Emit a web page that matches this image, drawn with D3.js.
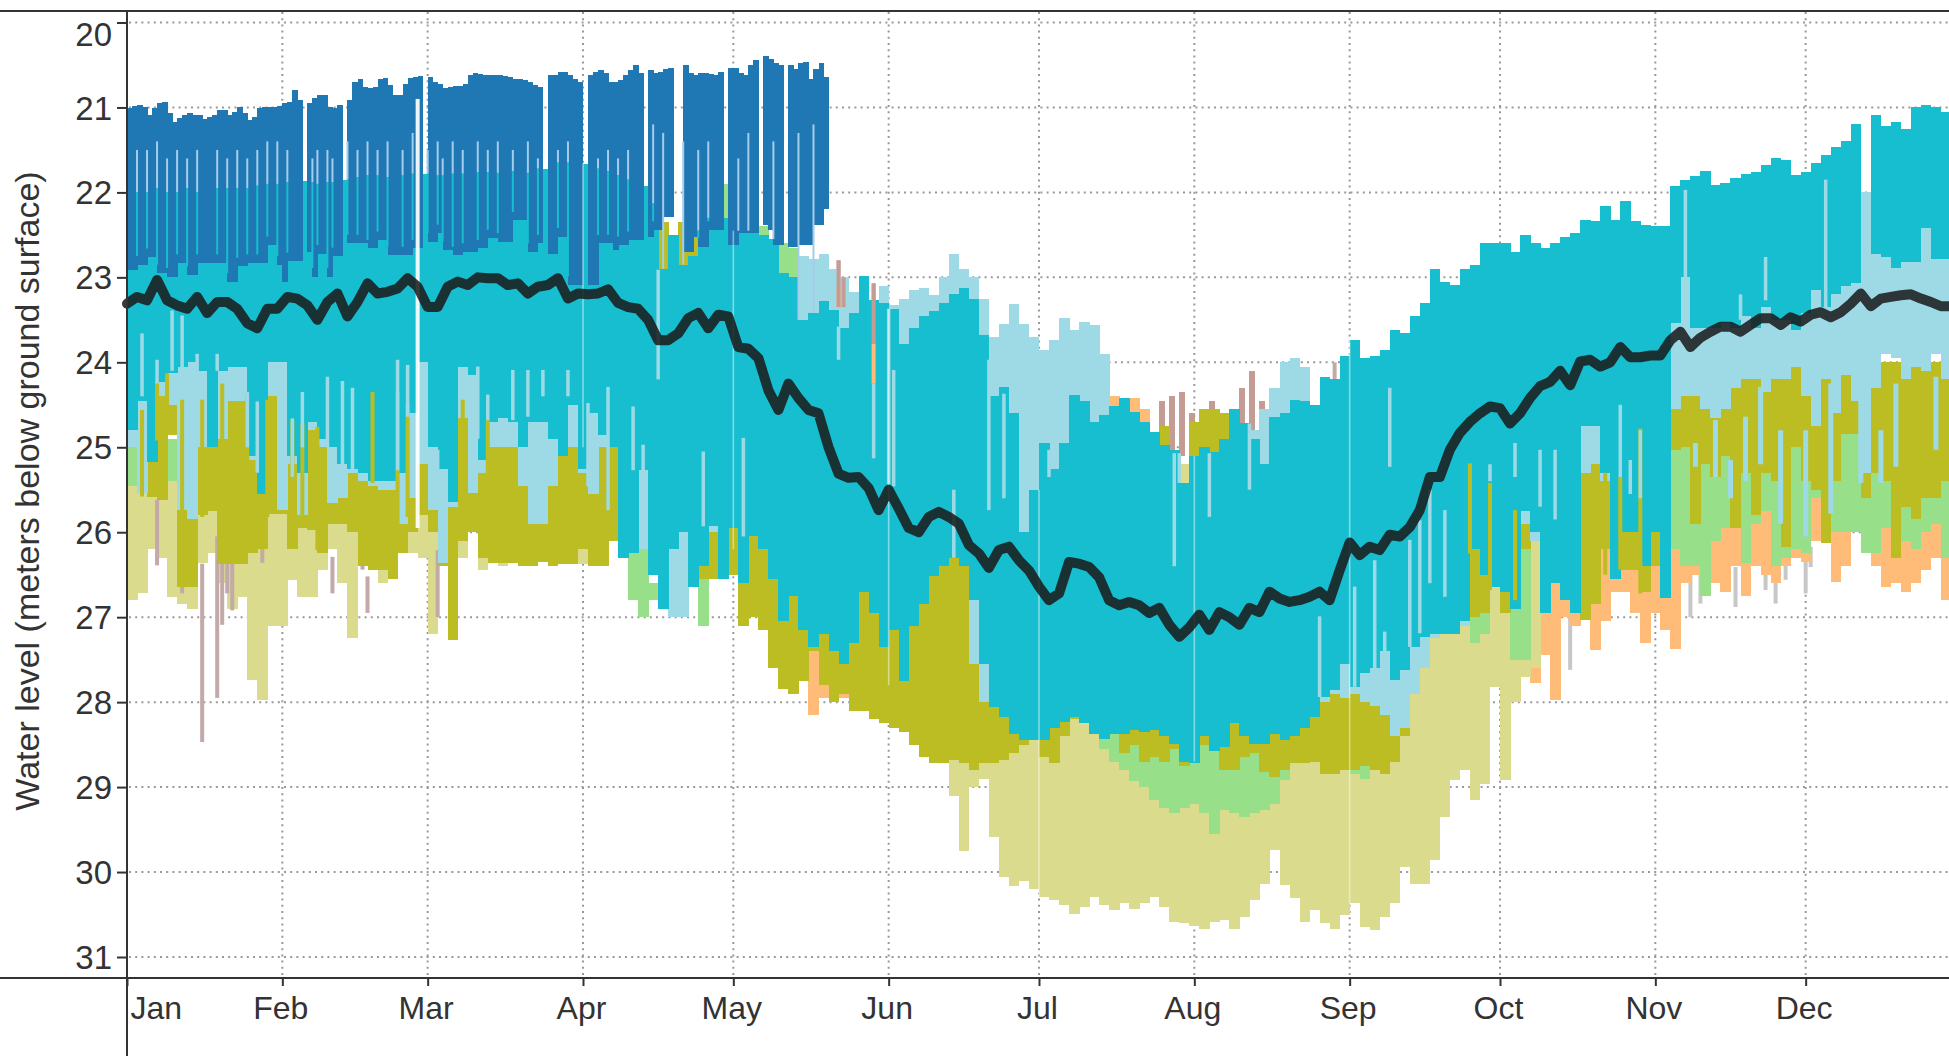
<!DOCTYPE html>
<html><head><meta charset="utf-8">
<script src="https://cdn.jsdelivr.net/npm/d3@7"></script>
<style>html,body{margin:0;padding:0;background:#fff;overflow:hidden}svg{display:block}text{font-family:"Liberation Sans",Arial,sans-serif;fill:#333}</style>
</head><body><svg id="c" width="1949" height="1056"></svg>
<script>
// Every band array below is sampled every 2 days, starting at day 0 (1 January). Levels in metres below ground.
const monthLabels=["Jan","Feb","Mar","Apr","May","Jun","Jul","Aug","Sep","Oct","Nov","Dec"];
const levelTicks=[20,21,22,23,24,25,26,27,28,29,30,31];
const meanLevel=[23.31,23.23,23.27,23.03,23.27,23.33,23.37,23.23,23.42,23.29,23.29,23.37,23.54,23.6,23.37,23.37,23.23,23.25,23.33,23.5,23.29,23.19,23.46,23.29,23.07,23.19,23.17,23.13,23.01,23.11,23.35,23.35,23.11,23.05,23.09,23.0,23.01,23.01,23.09,23.07,23.19,23.11,23.09,23.01,23.25,23.19,23.2,23.19,23.14,23.3,23.35,23.37,23.5,23.74,23.74,23.66,23.48,23.42,23.6,23.44,23.46,23.82,23.84,23.95,24.33,24.56,24.25,24.42,24.56,24.6,25.0,25.31,25.36,25.35,25.48,25.74,25.5,25.72,25.95,26.0,25.82,25.76,25.82,25.9,26.15,26.25,26.42,26.21,26.17,26.33,26.45,26.64,26.8,26.72,26.35,26.37,26.41,26.53,26.8,26.86,26.82,26.86,26.95,26.89,27.09,27.23,27.12,26.97,27.15,26.94,27.0,27.09,26.89,26.94,26.7,26.78,26.82,26.8,26.76,26.7,26.8,26.45,26.12,26.27,26.17,26.21,26.03,26.05,25.94,25.74,25.35,25.35,25.03,24.83,24.7,24.6,24.52,24.54,24.72,24.6,24.42,24.28,24.23,24.1,24.27,23.99,23.97,24.05,24.0,23.82,23.94,23.94,23.92,23.92,23.74,23.64,23.82,23.71,23.64,23.58,23.58,23.64,23.56,23.48,23.48,23.56,23.47,23.52,23.44,23.41,23.47,23.41,23.31,23.19,23.34,23.25,23.23,23.21,23.2,23.25,23.29,23.34,23.34];
// Blue series: daily, 1 January to about 20 May; null = no reading that day.
const blueTop=[21.01,20.98,20.97,20.99,21.09,21.01,20.95,20.93,21.07,21.17,21.13,21.09,21.07,21.09,21.09,21.14,21.11,21.09,21.03,21.03,21.09,21.05,21.0,21.07,21.15,21.11,21.01,20.99,20.99,20.99,20.98,20.95,20.93,20.79,20.91,20.93,20.95,20.89,20.85,20.85,20.99,21.01,20.97,20.99,20.91,20.7,20.66,20.76,20.77,20.76,20.66,20.65,20.74,20.85,20.85,20.72,20.65,20.64,20.63,20.63,20.64,20.7,20.72,20.77,20.76,20.75,20.75,20.72,20.62,20.6,20.61,20.62,20.62,20.62,20.62,20.63,20.64,20.66,20.66,20.68,20.7,20.74,20.76,20.62,20.62,20.62,20.58,20.58,20.62,20.66,20.7,20.65,20.62,20.58,20.56,20.6,20.7,20.7,20.68,20.62,20.56,20.5,20.6,20.58,20.56,20.6,20.58,20.55,20.54,20.5,20.46,20.5,20.6,20.62,20.6,20.6,20.61,20.62,20.58,20.54,20.53,20.53,20.6,20.62,20.5,20.44,20.42,20.4,20.43,20.48,20.5,20.5,20.5,20.55,20.48,20.46,20.66,20.55,20.48,20.64];
const blueBottom=[22.91,22.91,22.85,22.85,22.76,22.76,22.95,22.95,22.99,22.99,22.83,22.83,22.97,22.97,22.83,22.83,22.83,22.83,22.83,22.83,23.05,23.05,22.87,22.87,22.83,22.83,22.83,22.83,22.62,22.62,22.85,23.05,22.81,22.81,22.81,null,22.7,22.99,22.72,22.72,22.99,22.75,22.75,null,22.6,22.6,22.6,22.6,22.66,22.66,22.56,22.56,22.74,22.74,22.74,22.74,22.74,22.66,22.66,null,22.58,22.58,22.48,22.68,22.68,22.74,22.74,22.7,22.7,22.7,22.66,22.66,22.54,22.54,22.58,22.58,22.58,22.33,22.33,22.33,22.7,22.7,22.6,null,22.72,22.72,22.52,22.52,23.09,23.09,23.09,null,23.09,23.09,22.6,22.6,22.6,22.68,22.62,22.62,22.56,22.56,22.56,null,22.52,22.44,22.44,22.29,22.29,null,null,22.7,22.7,22.52,22.64,22.64,22.44,22.44,22.44,null,22.62,22.62,22.48,22.48,22.48,22.48,null,22.38,22.44,22.62,22.62,null,22.64,22.64,22.62,22.62,22.62,22.38,22.38,22.2];
const blueStreakDay=[2,4,6,8,10,12,14,18,20,22,24,26,28,30,32,37,38,40,41,44,46,48,50,52,55,57,60,62,63,65,67,70,72,74,77,80,82,86,88,94,96,98,100,105,107,111,114,116,122,124,129,134,137];
const blueStreakTop=[21.5,21.5,21.4,21.6,21.5,21.6,21.5,21.5,21.6,21.5,21.6,21.5,21.4,21.4,21.5,21.6,21.5,21.5,21.6,21.4,21.5,21.4,21.5,21.4,21.5,21.3,21.5,21.4,21.6,21.4,21.5,21.4,21.5,21.4,21.5,21.4,21.6,21.5,21.4,21.6,21.5,21.6,21.5,21.2,21.3,21.4,21.5,21.4,21.6,21.3,21.4,21.3,21.2];
const tealTop=[22.05,22.0,22.0,21.95,22.0,22.0,21.95,22.0,21.95,21.95,
21.95,21.95,21.95,21.92,21.9,21.9,21.88,21.87,21.88,21.9,
21.88,21.85,21.85,21.82,21.8,21.8,21.82,21.8,21.78,21.78,
21.78,21.8,21.78,21.78,21.76,21.76,21.76,21.77,21.75,21.75,
21.77,21.72,21.64,21.65,21.65,21.66,21.67,21.72,21.75,21.8,
21.85,21.92,22.13,22.9,22.5,22.85,22.75,22.45,22.3,22.3,
22.3,22.45,22.45,22.5,22.55,22.95,23.0,23.5,23.42,23.28,
23.38,23.6,23.42,22.98,23.27,23.3,23.37,23.78,23.6,23.46,
23.4,23.3,23.2,23.13,23.25,23.68,24.4,24.29,24.6,26.0,
25.5,24.95,25.25,24.95,24.39,24.45,24.7,24.62,24.52,24.42,
24.58,24.7,24.82,24.97,25.03,25.42,25.1,25.0,25.05,24.9,
24.55,24.72,24.9,25.2,24.64,24.6,24.44,24.45,24.5,24.17,
24.2,23.93,23.74,23.95,23.93,23.86,23.62,23.65,23.45,23.3,
22.9,23.05,23.09,22.9,22.85,22.6,22.6,22.6,22.7,22.5,
22.6,22.66,22.6,22.52,22.48,22.33,22.34,22.16,22.33,22.1,
22.34,22.38,22.4,22.4,21.93,21.85,21.81,21.75,21.91,21.89,
21.83,21.78,21.76,21.68,21.6,21.62,21.8,21.76,21.65,21.56,
21.46,21.4,21.2,null,21.09,21.22,21.17,21.25,20.99,20.97,
20.99,21.05,21.05];
const tealBottom=[24.8,24.45,25.17,24.23,24.13,24.05,24.0,24.1,25.0,24.1,
24.05,24.05,25.1,25.55,24.0,24.0,25.1,25.3,24.7,24.9,
25.0,25.2,25.25,25.3,25.4,25.4,25.4,25.3,24.6,24.0,
25.0,25.25,25.65,24.05,24.15,25.15,24.7,24.65,24.7,25.0,
24.7,24.7,24.9,25.1,24.5,25.25,24.6,24.85,25.0,26.3,
26.25,25.27,26.5,26.9,26.2,26.0,26.64,26.4,25.93,26.55,
25.95,26.6,26.05,26.2,26.55,27.05,26.75,27.15,27.35,27.2,
27.4,27.55,27.3,26.7,26.95,27.35,27.15,27.75,27.1,26.85,
26.52,26.4,26.3,26.4,26.8,27.55,28.06,28.17,28.37,28.45,
28.45,28.45,28.31,28.23,28.17,28.25,28.37,28.43,28.37,28.37,
28.33,28.35,28.33,28.4,28.49,28.7,28.72,28.4,28.57,28.53,
28.25,28.4,28.49,28.49,28.37,28.45,28.4,28.31,28.17,27.94,
27.86,27.55,27.82,27.66,27.6,27.4,27.74,27.62,27.35,27.23,
27.2,27.2,27.2,27.04,26.2,26.5,26.65,26.7,26.9,25.75,
26.0,26.95,26.6,26.8,26.95,24.75,24.75,25.3,26.55,26.0,
26.0,26.4,26.0,26.78,23.54,23.0,23.6,23.6,23.6,23.54,
23.6,23.45,23.6,23.35,23.5,23.5,23.62,23.42,23.15,23.35,
23.2,23.1,23.07,null,22.72,22.76,22.89,22.82,22.82,22.42,
22.78,22.78,22.78];
const lightTealTop=[22.6,22.6,22.6,22.6,22.6,22.6,22.6,22.6,22.6,22.6,
22.6,22.6,22.6,22.6,22.6,22.6,22.6,22.6,22.6,22.6,
22.6,22.6,22.6,22.6,22.6,22.6,22.6,22.6,22.6,22.6,
22.6,22.6,22.6,22.6,22.6,22.6,22.6,22.6,22.6,22.6,
22.6,22.6,22.6,22.6,22.6,22.6,22.6,22.6,22.6,22.6,
23.1,23.1,23.1,23.1,23.1,23.1,23.1,23.1,23.1,23.1,
23.1,23.1,23.1,23.1,23.1,23.1,23.1,22.75,22.78,22.72,
22.9,23.0,23.17,23.05,23.3,23.1,23.33,23.25,23.15,23.12,
23.21,23.0,22.72,22.9,23.0,23.25,23.7,23.55,23.31,23.55,
23.7,23.86,23.74,23.48,23.62,23.52,23.56,23.9,24.5,25.5,
25.5,25.5,25.5,25.5,25.5,25.5,25.5,25.5,25.5,25.5,
25.5,25.5,24.8,24.55,24.3,24.0,23.95,24.05,24.5,24.5,
24.5,24.5,24.5,24.5,24.5,24.5,24.5,24.5,24.5,24.5,
24.5,24.5,24.5,24.5,24.5,24.5,24.5,24.5,24.5,24.5,
24.5,24.5,24.5,24.5,24.5,24.5,24.5,24.5,24.5,24.5,
24.5,24.5,24.5,24.5,22.9,22.9,22.9,22.9,22.9,22.9,
22.9,22.9,22.9,22.9,22.9,22.9,22.9,22.9,22.95,22.5,
22.3,22.2,22.1,22.0,22.0,22.0,22.0,22.0,22.0,22.0,
22.0,22.0,22.0];
const lightTealBottom=[25.0,25.54,25.17,24.4,24.5,25.74,25.85,25.0,25.0,24.9,
24.45,24.45,25.15,25.54,24.4,25.74,25.2,25.8,24.8,25.0,
25.66,25.6,25.3,25.4,25.45,25.5,25.5,25.9,25.6,25.2,
25.74,26.36,25.7,24.65,25.54,25.3,25.0,25.0,25.0,25.45,
25.9,25.9,25.45,25.1,25.0,25.3,25.55,25.0,25.0,26.3,
26.25,26.2,26.5,26.9,27.0,27.0,26.64,26.4,26.0,26.55,
25.95,26.6,26.05,26.2,26.55,27.05,26.75,27.15,27.35,27.2,
27.4,27.55,27.3,26.7,26.95,27.35,27.15,27.75,27.1,26.85,
26.52,26.4,26.3,26.4,27.55,28.0,28.06,28.17,28.37,28.45,
28.0,28.0,28.0,28.0,28.0,28.0,28.0,28.0,28.0,28.0,
28.0,28.0,28.0,28.0,28.0,28.0,28.0,28.0,28.0,28.0,
28.0,28.0,28.0,28.0,28.0,28.0,28.0,28.0,28.0,28.0,
27.9,27.95,27.9,28.0,28.05,28.15,28.4,28.3,27.9,27.6,
27.25,27.2,27.2,27.1,26.2,26.1,25.6,26.7,26.9,25.9,
26.1,26.7,25.9,26.4,26.95,25.3,25.2,25.4,25.65,25.4,
25.5,25.5,25.95,26.78,24.55,24.4,24.4,24.55,24.65,24.55,
24.3,24.2,24.2,24.35,24.2,24.2,24.05,24.4,24.75,24.2,
24.6,24.15,24.45,25.3,24.3,23.9,23.95,24.2,24.05,24.1,
23.9,24.2,24.4];
const oliveTop=[24.0,24.0,24.0,24.0,24.0,24.0,24.0,24.0,24.0,24.0,
24.0,24.0,24.0,24.0,24.0,24.0,24.0,24.0,24.0,24.0,
24.0,24.0,24.0,24.0,24.0,24.0,24.0,24.0,24.0,24.0,
24.0,24.0,24.0,24.0,24.0,24.0,24.0,24.0,24.0,24.0,
24.0,24.0,24.0,24.0,24.0,24.0,24.0,24.0,24.0,24.0,
26.0,26.0,26.0,22.35,22.5,22.35,22.5,25.8,25.8,25.8,
25.8,25.8,25.8,25.8,25.8,25.8,25.8,25.8,25.8,25.8,
25.8,25.8,25.8,25.8,25.8,25.8,25.8,25.8,25.8,25.8,
25.8,25.8,25.8,25.8,25.8,25.8,25.8,25.8,25.8,25.8,
25.8,25.8,25.8,25.8,25.8,25.8,25.8,25.8,25.8,25.8,
25.8,25.8,25.8,24.75,25.8,25.8,24.7,24.55,24.55,24.6,
25.8,25.8,25.8,25.8,25.8,25.8,25.8,25.8,25.8,25.8,
25.8,25.8,25.8,25.8,25.8,25.8,25.8,25.8,25.8,25.8,
25.8,25.8,25.8,25.8,25.8,25.8,25.8,25.8,25.8,25.8,
24.5,24.5,24.5,24.5,24.5,24.5,24.5,24.5,24.5,24.5,
24.5,24.5,24.5,24.5,24.0,24.0,24.0,24.0,24.0,24.0,
24.0,24.0,24.0,24.0,24.0,24.0,24.0,24.0,24.0,24.0,
24.0,24.0,24.0,24.0,24.0,24.0,24.0,24.0,24.0,24.0,
24.0,24.0,24.0];
const oliveBottom=[25.0,25.0,25.58,25.62,24.85,26.65,26.65,25.8,25.75,26.37,
26.37,26.37,26.25,26.2,25.78,25.78,26.2,25.95,25.97,26.25,
25.9,25.9,26.0,26.4,26.45,26.45,26.55,26.25,26.0,25.8,
26.0,26.4,27.27,26.1,26.0,26.3,26.36,26.36,26.36,26.4,
26.4,26.35,26.4,26.37,26.37,26.2,26.4,26.4,26.1,26.1,
26.1,26.1,26.1,22.95,22.8,22.95,22.85,26.55,26.55,26.1,
26.5,27.1,27.0,27.15,27.6,27.85,27.9,27.75,27.4,27.8,
28.0,27.9,28.1,28.1,28.2,28.25,28.3,28.35,28.5,28.65,
28.72,28.72,28.68,28.72,28.8,28.72,28.72,28.68,28.6,28.5,
28.45,28.64,28.72,28.4,28.2,28.2,28.2,28.2,28.2,28.6,
28.5,28.7,28.65,28.7,28.55,28.75,28.6,28.5,28.55,28.8,
28.8,28.65,28.6,28.82,28.88,28.8,28.72,28.72,28.7,28.85,
28.85,28.8,28.8,28.75,28.8,28.85,28.7,28.4,26.0,26.0,
26.0,26.5,26.8,27.05,27.0,26.95,26.5,26.95,26.8,26.2,
26.0,26.0,26.0,26.0,26.0,27.03,26.85,26.2,26.45,26.45,
26.45,26.7,26.4,26.0,25.03,25.0,25.9,25.2,25.35,25.1,
25.95,25.3,25.8,25.3,25.4,26.17,25.0,25.4,25.5,26.13,
25.4,24.84,24.84,25.6,25.3,25.4,26.3,25.7,25.85,25.6,
25.6,25.4,25.55];
const greenDay=[0,2,4,6,8,10,12,14,16,100,102,104,114,118,124,126,128,130,132,192,194,196,198,200,202,204,206,208,210,212,214,216,218,220,222,224,226,228,230,244,246,266,268,270,276,278,284,290,292,308,310,312,314,316,318,320,322,324,326,328,330,332,334,336,338,340,342,344,346,348,350,352,354,356,358,360,362,364];
const greenTop=[24.8,24.9,24.9,24.9,24.9,24.9,24.9,24.9,24.9,25.9,26.0,26.6,25.9,21.9,26.0,22.4,22.55,22.6,22.65,27.8,27.8,27.8,27.8,27.8,27.8,27.8,27.8,27.8,27.8,27.8,27.8,27.8,27.8,27.8,27.8,27.8,27.8,27.8,27.8,28.4,28.4,26.2,26.2,26.2,26.2,26.2,25.8,25.4,25.4,24.8,24.8,24.8,24.8,24.8,24.8,24.8,24.8,24.8,24.8,24.8,24.8,24.8,24.8,24.8,24.8,24.8,24.8,24.8,24.8,24.8,24.8,24.8,24.8,24.8,24.8,24.8,24.8,24.8];
const greenBottom=[25.45,25.4,25.4,25.4,25.4,25.4,25.4,25.4,25.4,26.8,27.0,26.8,27.1,22.3,26.5,22.5,22.6,22.95,23.0,28.3,28.55,28.7,28.8,28.93,29.0,29.15,29.25,29.31,29.25,29.2,29.3,29.55,29.27,29.3,29.35,29.3,29.27,29.2,28.92,28.85,28.9,27.0,27.3,27.2,27.5,27.5,26.4,26.5,26.5,26.2,26.4,26.4,26.75,26.1,25.95,25.95,26.36,25.9,25.75,26.4,26.3,26.2,26.25,25.6,25.8,26.0,26.0,26.0,26.25,26.25,25.95,26.2,26.1,26.2,26.0,25.9,26.3,26.3];
const khakiDay=[0,2,4,6,8,10,12,14,16,18,20,22,24,26,28,30,32,34,36,38,40,42,44,46,48,50,52,54,56,58,60,62,64,66,68,70,72,74,76,78,80,82,84,86,88,90,92,94,96,98,164,166,168,170,172,174,176,178,180,182,184,186,188,190,192,194,196,198,200,202,204,206,208,210,212,214,216,218,220,222,224,226,228,230,232,234,236,238,240,242,244,246,248,250,252,254,256,258,260,262,264,266,268,270,272,274,276,278,280];
const khakiBottom=[26.8,26.72,26.2,26.3,26.76,26.85,26.9,26.36,26.25,26.6,26.9,26.76,27.74,27.98,27.1,27.1,26.56,26.76,26.76,26.45,26.2,26.6,27.25,26.4,26.4,26.6,26.36,26.2,26.25,26.3,27.2,26.4,27.27,26.3,26.0,26.45,26.2,26.4,26.35,26.35,26.4,26.1,26.37,26.3,26.3,26.37,26.4,26.1,26.1,26.1,29.1,29.75,29.0,28.9,29.59,30.06,30.17,30.1,30.2,30.29,30.33,30.39,30.49,30.41,30.29,30.39,30.45,30.37,30.43,30.37,30.29,30.41,30.59,30.6,30.63,30.67,30.59,30.57,30.67,30.53,30.33,30.14,29.74,30.15,30.31,30.59,30.45,30.6,30.67,30.51,30.37,30.65,30.68,30.53,30.37,29.94,30.14,30.14,29.86,29.35,28.92,28.8,29.15,28.96,27.82,28.92,28.0,27.7,27.6];
const khakiTopAll=25.2;
const orangeDay=[136,138,142,144,194,196,200,202,280,282,284,286,288,290,292,294,296,298,300,302,304,306,308,310,312,314,316,318,320,322,324,326,328,330,332,334,336,338,340,342,344,346,348,350,352,354,356,358,360,362,364];
const orangeTop=[27.2,27.5,27.5,27.5,24.17,24.4,24.42,24.55,25.5,25.5,25.5,25.5,25.5,25.5,25.5,25.5,25.5,25.5,25.5,25.5,25.5,25.5,25.5,25.5,25.5,25.5,25.5,25.5,25.5,25.5,25.5,25.5,25.5,25.5,25.5,25.5,25.5,25.5,25.5,25.5,25.5,25.5,25.5,25.5,25.5,25.5,25.5,25.5,25.5,25.5,25.5];
const orangeBottom=[28.15,27.95,27.95,28.0,24.9,24.9,24.9,24.9,27.78,27.45,27.98,27.0,27.1,27.0,27.39,27.05,26.7,26.7,26.95,27.3,26.95,27.15,27.37,26.6,26.5,26.55,26.6,26.7,26.4,26.75,26.4,26.5,26.6,26.4,26.3,26.35,26.1,26.1,26.58,26.4,26.0,26.05,26.4,26.65,26.6,26.7,26.6,26.45,26.3,26.8,26.5];
const tanDay=[206,208,210,212,216,222,224,226,228,230,232];
const tanTop=[24.45,24.4,24.35,24.6,24.45,24.3,24.1,24.45,24.5,24.45,24.4];
const tanBottom=[25.05,25.05,25.1,25.0,25.0,25.0,25.0,25.0,25.0,25.0,25.0];
// Narrow single-day readings that stick out of the bands.
const lightSpikeDay=[3,6,9,11,14,18,24,26,33,35,40,43,45,54,56,62,70,72,77,80,83,88,92,96,101,103,106,115,123,142,149,152.6,153,165,172,175,184,209,210,216,224,238.5,245.5,249.5,251.5,256.5,258.5,260.4,263.4,252,272.4,277.3,282.4,285.4,298.6,302.6,300.6,311,322.3,327.3,339.6];
const lightSpikeTop=[23.66,23.97,23.39,23.45,23.9,23.9,24.35,24.46,24.66,24.35,24.17,24.22,24.3,23.97,24.03,25.03,24.05,24.38,24.09,24.09,24.09,24.09,24.48,24.29,24.52,24.97,22.91,25.05,24.89,23.58,24.25,23.37,24.09,25.5,23.97,24.37,25.03,25.07,25.07,25.07,24.72,26.99,26.64,26.33,27.17,26.09,25.86,25.5,25.74,24.3,25.2,24.95,25.03,25.03,24.5,24.8,25.15,21.97,23.2,22.76,21.85];
const lightSpikeBottom=[24.4,24.25,24.1,24.1,24.25,24.1,25.0,25.3,25.35,25.0,25.0,25.27,25.27,25.27,24.64,25.5,24.9,24.68,24.68,24.64,24.4,24.4,25.46,25.74,25.27,25.27,24.2,25.93,26.05,23.97,25.13,25.43,25.46,26.3,25.74,25.6,25.35,26.4,25.42,25.82,25.5,27.94,27.82,27.82,27.82,27.35,27.19,26.6,26.76,25.23,25.4,25.35,25.7,25.85,25.35,25.6,25.55,23.6,23.5,23.27,23.38];
const lateLightDay=[313.7,317.3,320.3,323.3,326.7,330.6,335.6,340,346.6,350.6,353.6,361.2];
const lateLightTop=[24.95,24.68,25.15,24.64,24.29,24.8,24.8,24.25,24.44,24.8,24.25,24.17];
const lateLightBottom=[25.23,25.35,25.6,25.4,25.2,25.9,26.05,25.78,25.42,25.42,25.23,25.03];
const oliveSpikeDay=[3,6.6,8.6,11,15,19,24.3,28.3,33.3,35.3,38.3,49.3,54.3,56.6,67.3,72.3,268.1,272.4,277.7,295.4,298.7,302.5];
const oliveSpikeTop=[24.56,24.21,24.13,24.44,24.44,24.25,24.37,24.44,24.68,24.72,24.76,24.35,24.35,24.48,24.44,24.68,25.19,25.42,25.74,25.3,25.35,24.78];
const oliveSpikeBottom=[25.58,24.92,24.84,26.6,25.82,25.82,25.42,25.82,25.82,25.93,26.21,25.42,25.9,25.82,25.42,26.21,26.25,26.68,26.8,26.5,26.44,26.72];
const tanSpikeDay=[6,11,15,18.3,19,20.3,21,27,41,47,48.2,54,55.3,62.3,71.3,56.3,142,143.3,149,180.9,231,241,245,252];
const tanSpikeTop=[25.62,26.6,26.37,26.05,26.09,26.13,26.21,25.74,26.29,25.82,26.52,25.42,25.97,26.21,25.82,25.42,22.8,23.0,23.07,23.97,24.3,24.0,24.0,23.93];
const tanSpikeBottom=[26.39,26.72,28.47,27.95,27.09,26.72,26.92,26.36,26.72,26.44,26.95,25.93,26.13,27.0,26.21,25.82,23.35,23.35,23.78,24.33,24.9,24.33,24.45,24.33];
const orangeSpikeDay=[149,142];
const orangeSpikeTop=[23.78,23.1];
const orangeSpikeBottom=[24.25,23.35];
const greySpikeDay=[309.3,312.7,314.3,321.3,327,329,331,335.3,336.3,349.6,360.6,288.7,294];
const greySpikeTop=[26.2,26.45,26.41,26.41,26.41,26.29,26.05,26.17,26.17,25.86,25.46,26.99,26.05];
const greySpikeBottom=[26.8,27.0,26.84,26.88,26.68,26.84,26.56,26.72,26.41,26.09,25.82,27.62,26.68];
// Pale lines where the month's first reading is missing in most years.
const gapDay=[91,121,152,182,213,244];
const gapTop=[21.66,22.45,23.37,25.5,25.1,23.74];
const gapBottom=[25.0,26.2,27.8,30.29,28.7,30.37];
const wideGapDay=[58.9];
const wideGapTop=[20.9];
const wideGapBottom=[25.95];

const svg=d3.select("#c");
const x=d3.scaleTime().domain([new Date(2000,0,1),new Date(2001,0,1)]).range([127,1961]);
const y=d3.scaleLinear().domain([20,31]).range([22.5,957]);
const dayX=d=>x(new Date(2000,0,1+d));
const evenDays=n=>d3.range(n).map(i=>i*2);

// grid
const grid=svg.append("g").attr("stroke","#999").attr("stroke-width",2).attr("stroke-dasharray","2,4.2");
levelTicks.forEach(v=>grid.append("line").attr("x1",129).attr("x2",1949).attr("y1",y(v)).attr("y2",y(v)));
d3.timeMonth.range(new Date(2000,1,1),new Date(2001,0,1)).forEach(m=>grid.append("line").attr("x1",x(m)).attr("x2",x(m)).attr("y1",12).attr("y2",977));

function bars(days,tops,bottoms,color,span){
  const g=svg.append("g").attr("fill",color).attr("shape-rendering","crispEdges");
  days.forEach((d,i)=>{
    const t=tops[i],b=bottoms[i];
    if(t==null||b==null||b<=t) return;
    g.append("rect").attr("x",dayX(d)).attr("width",dayX(d+span)-dayX(d)+0.5).attr("y",y(t)).attr("height",y(b)-y(t));
  });
}
function spikes(days,tops,bottoms,color,w){
  const g=svg.append("g").attr("fill",color);
  days.forEach((d,i)=>g.append("rect").attr("x",dayX(d)-w/2).attr("width",w).attr("y",y(tops[i])).attr("height",y(bottoms[i])-y(tops[i])));
}
const bins=evenDays(183);
spikes(greySpikeDay,greySpikeTop,greySpikeBottom,"#c7c7c7",4);
bars(orangeDay,orangeTop,orangeBottom,"#ffbb78",2);
bars(tanDay,tanTop,tanBottom,"#c49c94",1.2);
bars(khakiDay,khakiDay.map(()=>khakiTopAll),khakiBottom,"#dbdb8d",2);
spikes(tanSpikeDay,tanSpikeTop,tanSpikeBottom,"#c3aaa8",4);
bars(greenDay,greenTop,greenBottom,"#98df8a",2);
bars(bins,oliveTop,oliveBottom,"#bcbd22",2);
bars(bins,lightTealTop,lightTealBottom,"#9edae5",2);
bars(bins,tealTop,tealBottom,"#17becf",2);
spikes(oliveSpikeDay,oliveSpikeTop,oliveSpikeBottom,"#bcbd22",4);
spikes(lateLightDay,lateLightTop,lateLightBottom,"#9edae5",5);
spikes(orangeSpikeDay,orangeSpikeTop,orangeSpikeBottom,"#ffbb78",4);
spikes(lightSpikeDay,lightSpikeTop,lightSpikeBottom,"#9edae5",3.5);
bars(d3.range(blueTop.length),blueTop,blueBottom,"#1f77b4",1);
spikes(tanSpikeDay.slice(16,19),tanSpikeTop.slice(16,19),tanSpikeBottom.slice(16,19),"#c49c94",4);
// streaks between blue readings
const sg=svg.append("g");
blueStreakDay.forEach((d,i)=>{
  const tt=tealTop[Math.floor(d/2)],bb=blueBottom[d]==null?tt:blueBottom[d];
  sg.append("rect").attr("x",dayX(d)-1).attr("width",2).attr("y",y(blueStreakTop[i])).attr("height",Math.max(0,y(tt)-y(blueStreakTop[i]))).attr("fill","#a5cdea");
  sg.append("rect").attr("x",dayX(d)-1).attr("width",2).attr("y",y(tt)).attr("height",Math.max(0,y(bb-0.1)-y(tt))).attr("fill","#17becf");
});
spikes(gapDay,gapTop,gapBottom,"rgba(255,255,255,0.45)",1.6);
spikes(wideGapDay,wideGapTop,wideGapBottom,"rgba(255,255,255,0.92)",4);

// mean line
svg.append("path").datum(meanLevel)
  .attr("d",d3.line().x((d,i)=>dayX(i*2)).y(d=>y(d)))
  .attr("fill","none").attr("stroke","#1a1a1a").attr("stroke-opacity",0.86)
  .attr("stroke-width",10).attr("stroke-linejoin","round").attr("stroke-linecap","round");

// axes
const yAxis=svg.append("g").attr("transform","translate(127,0)")
  .call(d3.axisLeft(y).tickValues(levelTicks).tickSize(10).tickPadding(5).tickFormat(d3.format("d")));
yAxis.select(".domain").remove();
yAxis.selectAll("line").attr("stroke","#333").attr("stroke-width",2);
yAxis.selectAll("text").attr("font-size",33).attr("fill","#333").style("font-family",'"Liberation Sans",Arial,sans-serif')
  .attr("dy",d=>d===20?"0.7em":"0.35em");
const xAxis=svg.append("g").attr("transform","translate(0,978)")
  .call(d3.axisBottom(x).tickValues(d3.timeMonth.range(new Date(2000,0,1),new Date(2001,0,1)))
    .tickSize(8).tickPadding(7).tickFormat((d)=>monthLabels[d.getMonth()]));
xAxis.select(".domain").remove();
xAxis.selectAll("line").attr("stroke","#333").attr("stroke-width",2);
xAxis.selectAll("text").attr("font-size",32).attr("fill","#333").style("font-family",'"Liberation Sans",Arial,sans-serif')
  .attr("text-anchor",d=>d.getMonth()===0?"start":"middle").attr("dx",d=>d.getMonth()===0?3:-2).attr("y",12).attr("dy","0.9em");
const frame=svg.append("g").attr("stroke","#333").attr("stroke-width",2);
frame.append("line").attr("x1",0).attr("x2",1949).attr("y1",11).attr("y2",11);
frame.append("line").attr("x1",0).attr("x2",1949).attr("y1",978).attr("y2",978);
frame.append("line").attr("x1",127).attr("x2",127).attr("y1",11).attr("y2",1056);
svg.append("text").attr("transform","translate(39,491) rotate(-90)").attr("text-anchor","middle")
  .attr("font-size",34).text("Water level (meters below ground surface)");
</script></body></html>
